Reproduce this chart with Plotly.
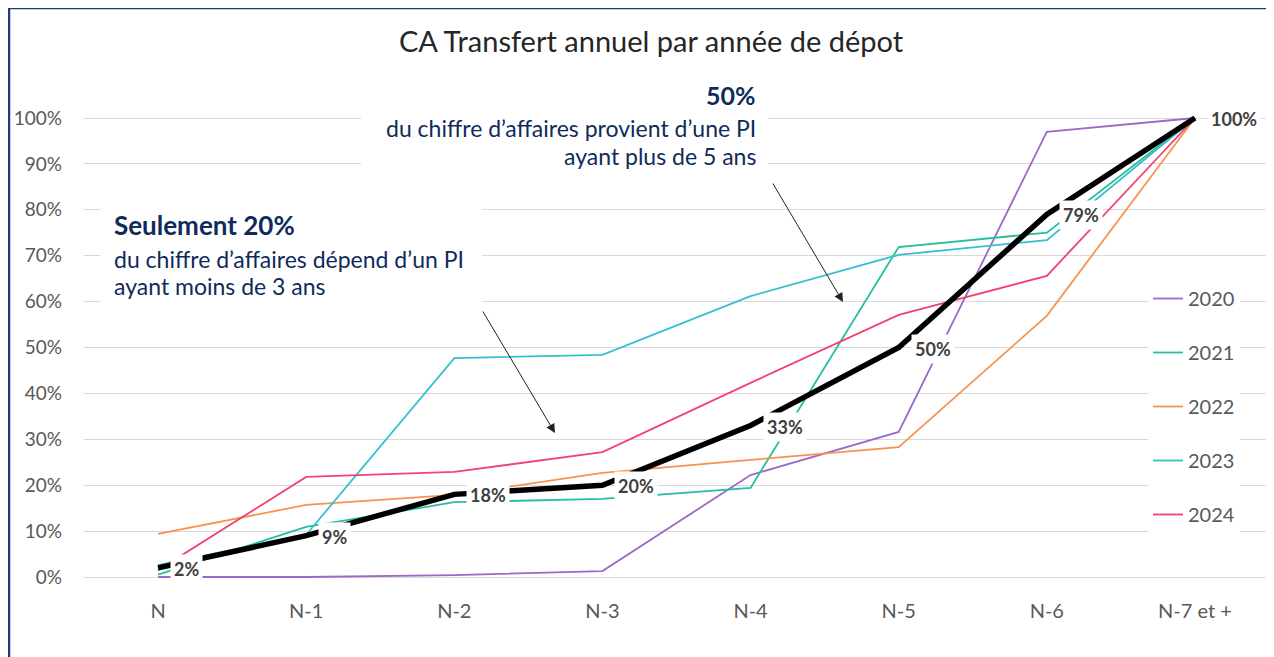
import plotly.graph_objects as go

categories = ["N", "N-1", "N-2", "N-3", "N-4", "N-5", "N-6", "N-7 et +"]
years = ["2020", "2021", "2022", "2023", "2024"]
s2020 = [0.000, 0.000, 0.004, 0.013, 0.222, 0.316, 0.970, 1.000]
s2021 = [0.005, 0.109, 0.163, 0.170, 0.194, 0.719, 0.750, 1.000]
s2022 = [0.094, 0.157, 0.179, 0.227, 0.255, 0.283, 0.569, 1.000]
s2023 = [0.026, 0.092, 0.477, 0.484, 0.612, 0.702, 0.734, 1.000]
s2024 = [0.015, 0.218, 0.229, 0.272, 0.423, 0.571, 0.656, 1.000]
average = [0.02, 0.09, 0.18, 0.20, 0.33, 0.50, 0.79, 1.00]
series = [s2020, s2021, s2022, s2023, s2024]
colors = ["#9D68C6", "#27BDA3", "#F7924F", "#35C0D0", "#F2426F"]
y_ticks = [0, 0.1, 0.2, 0.3, 0.4, 0.5, 0.6, 0.7, 0.8, 0.9, 1.0]

W, H = 1274, 657
OFF = 8  # page body margin
L, R, T, B = 84, 1269, 110, 585  # plot area in window px
FONT = "Lato"
NAVY = "#0F2B5B"

def px(x):
    return (x - L) / (R - L)

def py(y):
    return (B - y) / (B - T)

fig = go.Figure()
for name, vals, col in zip(years, series, colors):
    fig.add_trace(go.Scatter(x=categories, y=vals, mode="lines", name=name,
                             line=dict(color=col, width=1.8), legendgroup=name))
fig.add_trace(go.Scatter(x=categories, y=average, mode="lines", name="Moyenne",
                         line=dict(color="black", width=5.5), showlegend=False))

for c, v in zip(categories, average):
    fig.add_annotation(x=c, y=v, xref="x", yref="y", text=f"<b>{round(v*100)}%</b>",
                       showarrow=False, xanchor="left", yanchor="middle", xshift=12, yshift=-1,
                       bgcolor="white", borderpad=3,
                       font=dict(family=FONT, size=18, color="#404040"))

shapes = [
    dict(type="rect", xref="paper", yref="paper", x0=px(100), x1=px(482), y0=py(305), y1=py(198),
         fillcolor="white", line=dict(width=0), layer="above"),
    dict(type="rect", xref="paper", yref="paper", x0=px(361), x1=px(768), y0=py(176), y1=py(76),
         fillcolor="white", line=dict(width=0), layer="above"),
    dict(type="line", xref="paper", yref="paper", x0=px(9), x1=px(1290), y0=py(8), y1=py(8),
         line=dict(color="#1F3A78", width=2.5)),
    dict(type="line", xref="paper", yref="paper", x0=px(9), x1=px(9), y0=py(8), y1=py(680),
         line=dict(color="#1F3A78", width=2.5)),
]

annos = [
    dict(x=px(112), y=py(225), text="<b>Seulement 20%</b>", xanchor="left",
         font=dict(family=FONT, size=26, color=NAVY)),
    dict(x=px(112), y=py(259), text="du chiffre d’affaires dépend d’un PI", xanchor="left",
         font=dict(family=FONT, size=23, color=NAVY)),
    dict(x=px(112), y=py(286), text="ayant moins de 3 ans", xanchor="left",
         font=dict(family=FONT, size=23, color=NAVY)),
    dict(x=px(758), y=py(95), text="<b>50%</b>", xanchor="right",
         font=dict(family=FONT, size=25, color=NAVY)),
    dict(x=px(758), y=py(128), text="du chiffre d’affaires provient d’une PI", xanchor="right",
         font=dict(family=FONT, size=23, color=NAVY)),
    dict(x=px(758), y=py(156), text="ayant plus de 5 ans", xanchor="right",
         font=dict(family=FONT, size=23, color=NAVY)),
]
for a in annos:
    fig.add_annotation(xref="paper", yref="paper", showarrow=False, yanchor="middle", **a)

for (tx, ty, hx, hy) in [(482, 310, 555, 433), (772, 182, 843, 302)]:
    fig.add_annotation(xref="paper", yref="paper", x=px(hx), y=py(hy), ax=tx - hx, ay=ty - hy,
                       axref="pixel", ayref="pixel", text="", showarrow=True,
                       arrowhead=2, arrowsize=1.8, arrowwidth=1, arrowcolor="#222222")

fig.update_layout(
    width=W, height=H,
    margin=dict(l=L - OFF, r=W - (R - OFF), t=T - OFF, b=H - (B - OFF), autoexpand=False),
    paper_bgcolor="white", plot_bgcolor="white",
    font=dict(family=FONT, color="#595959"),
    title=dict(text="CA Transfert annuel par année de dépot", x=(651 - OFF) / W, xanchor="center",
               y=1 - (42 - OFF) / H, yanchor="middle", yref="container",
               font=dict(family=FONT, size=29, color="#262626")),
    shapes=shapes,
    legend=dict(x=px(1148), y=py(279), xanchor="left", yanchor="top", bgcolor="white",
                font=dict(family=FONT, size=20, color="#595959"), tracegroupgap=25,
                itemwidth=30),
    showlegend=True,
)
fig.update_xaxes(range=[-0.5, 7.5], showgrid=False, showline=False, ticks="", automargin=False,
                 tickfont=dict(family=FONT, size=20, color="#595959"), ticklabelstandoff=12)
y0 = -(B - 577) / 459
y1 = 1 + (118 - T) / 459
fig.update_yaxes(range=[y0, y1], tickvals=y_ticks, tickformat=".0%", showgrid=True, automargin=False,
                 gridcolor="#D9D9D9", gridwidth=1.3, zeroline=False, showline=False, ticks="",
                 tickfont=dict(family=FONT, size=19, color="#595959"), ticklabelstandoff=21)

fig.write_html("out.html")
